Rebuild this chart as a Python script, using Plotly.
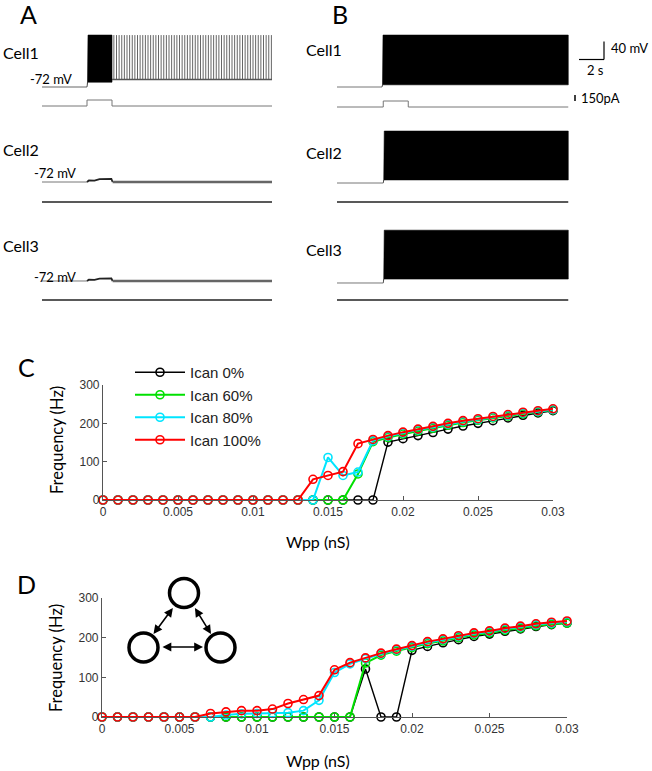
import plotly.graph_objects as go

W, H = 652, 771

# ---- panel C / D data: firing frequency (Hz) vs Wpp (nS) ----
wpp_ns = [0.000, 0.001, 0.002, 0.003, 0.004, 0.005, 0.006, 0.007, 0.008, 0.009,
          0.010, 0.011, 0.012, 0.013, 0.014, 0.015, 0.016, 0.017, 0.018, 0.019,
          0.020, 0.021, 0.022, 0.023, 0.024, 0.025, 0.026, 0.027, 0.028, 0.029, 0.030]

series_names = ["Ican 0%", "Ican 60%", "Ican 80%", "Ican 100%"]
series_colors = ["#000000", "#00e000", "#00e5ff", "#ff0000"]

c_ican0 = [0, 0, 0, 0, 0, 0, 0, 0, 0, 0, 0, 0, 0, 0, 0, 0, 0, 0, 0,
           151, 160, 168, 176, 185, 193, 200, 207, 214, 221, 227, 233]
c_ican60 = [0, 0, 0, 0, 0, 0, 0, 0, 0, 0, 0, 0, 0, 0, 0, 0, 0,
            68, 152, 163, 172, 180, 187, 195, 202, 208, 214, 219, 225, 230, 235]
c_ican80 = [0, 0, 0, 0, 0, 0, 0, 0, 0, 0, 0, 0, 0, 0, 0,
            111, 64, 73, 155, 166, 175, 183, 190, 198, 205, 210, 216, 221, 227, 231, 236]
c_ican100 = [0, 0, 0, 0, 0, 0, 0, 0, 0, 0, 0, 0, 0, 0,
             54, 64, 74, 147, 158, 168, 177, 185, 192, 200, 207, 212, 218, 223, 229, 233, 238]

d_ican0 = [0, 0, 0, 0, 0, 0, 0, 0, 0, 0, 0, 0, 0, 0, 0, 0, 0,
           121, 0, 0, 168, 178, 187, 195, 203, 209, 216, 222, 228, 233, 237]
d_ican60 = [0, 0, 0, 0, 0, 0, 0, 0, 0, 0, 0, 0, 0, 0, 0, 0, 0,
            136, 156, 166, 175, 185, 192, 200, 207, 212, 219, 224, 230, 234, 237]
d_ican80 = [0, 0, 0, 0, 0, 0, 0, 0,
            5, 8, 9, 10, 11, 16, 42, 112, 134, 147, 159, 169, 178, 188, 195, 203,
            210, 215, 222, 227, 233, 237, 240]
d_ican100 = [0, 0, 0, 0, 0, 0, 0,
             9, 13, 16, 16, 20, 34, 44, 54, 119, 137, 149, 161, 171, 180, 190, 197,
             205, 212, 217, 224, 229, 235, 239, 242]

x_ticks = [0, 0.005, 0.01, 0.015, 0.02, 0.025, 0.03]
x_ticktext = ["0", "0.005", "0.01", "0.015", "0.02", "0.025", "0.03"]
y_ticks = [0, 100, 200, 300]

# ---- panel A / B traces (s, mV, pA) ----
rest_mv = -72
stim_pa = 150
a_end_s = 18.4
b_end_s = 18.5
a_stim_s = [3.6, 5.6]
b_stim_s = [3.7, 5.7]

# A cell1: burst during stimulus, then tonic spiking
a1_burst_lo, a1_burst_hi = -61, 46
a1_tonic_base = -55
a1_spike_peak = 46
a1_first_tonic = 5.75
a1_isi = 0.21

# A cells 2 and 3: small depolarisation during stimulus
a2_bump_t = [3.6, 3.75, 4.2, 4.6, 5.55, 5.65]
a2_bump_v = [-72, -68.5, -69, -65.5, -65, -72]
a3_bump_t = [3.6, 3.75, 4.2, 4.6, 5.55, 5.65]
a3_bump_v = [-72, -69, -69.5, -66.5, -66, -72]

# B cells: persistent high-frequency firing (envelope)
b_onset_s = [3.6, 3.7, 3.7]
b_block_hi = [46, 46, 48]
b_block_lo = [-67, -65, -63]

LBL = "Lato, 'Open Sans', sans-serif"
TICK = "'Liberation Sans', Arial, sans-serif"


def fx(p):
    return p / W


def fy(p):
    return 1 - p / H


layout_axes = {}


def add_axes(n, x0, x1, y_top, y_bot, xr, yr):
    xs = "xaxis" if n == 1 else f"xaxis{n}"
    ys = "yaxis" if n == 1 else f"yaxis{n}"
    ref = "" if n == 1 else str(n)
    layout_axes[xs] = dict(domain=[fx(x0), fx(x1)], range=xr, visible=False,
                           anchor="y" + ref, fixedrange=True, automargin=False)
    layout_axes[ys] = dict(domain=[fy(y_bot), fy(y_top)], range=yr, visible=False,
                           anchor="x" + ref, fixedrange=True, automargin=False)
    return "x" + ref, "y" + ref


fig = go.Figure()

# ---- C and D line charts ----
mv_px = 0.44   # pixel per mV in trace panels
s_px = 12.5    # pixel per second
v_range = [-85, 55]
i_range = [-50, 200]

add_axes(1, 103, 553, 385, 500, [0, 0.03], [0, 300])
add_axes(2, 102, 567, 598, 717, [0, 0.03], [0, 300])

for ax in ("xaxis", "xaxis2"):
    layout_axes[ax].update(visible=True, showline=True, linecolor="#555", linewidth=1.2,
                           ticks="inside", ticklen=4, tickcolor="#555", showgrid=False,
                           zeroline=False, tickvals=x_ticks, ticktext=x_ticktext,
                           tickfont=dict(family=TICK, size=12, color="#333"))
for ax in ("yaxis", "yaxis2"):
    layout_axes[ax].update(visible=True, showline=True, linecolor="#555", linewidth=1.2,
                           ticks="inside", ticklen=4, tickcolor="#555", showgrid=False,
                           zeroline=False, tickvals=y_ticks,
                           tickfont=dict(family=TICK, size=12, color="#333"))

for (xr, yr, data, legend) in (("x", "y", [c_ican0, c_ican60, c_ican80, c_ican100], True),
                               ("x2", "y2", [d_ican0, d_ican60, d_ican80, d_ican100], False)):
    for name, col, vals in zip(series_names, series_colors, data):
        fig.add_trace(go.Scatter(
            x=wpp_ns, y=vals, name=name, mode="lines+markers", xaxis=xr, yaxis=yr,
            line=dict(color=col, width=1.4 if col == "#000000" else 2),
            marker=dict(symbol="circle-open", size=8, color=col, line=dict(width=1.6)),
            cliponaxis=False, showlegend=legend))

# ---- A and B traces ----
a_v_base = [87, 182, 281]
a_i_base = [106, 202, 300]
b_v_base = [87, 183, 283]
b_i_base = [107, 202, 300]

n = 3
a_vax, a_iax, b_vax, b_iax = [], [], [], []
for k in range(3):
    bot = a_v_base[k] + (rest_mv - v_range[0]) * mv_px
    a_vax.append(add_axes(n, 42, 42 + 18.6 * s_px, bot - 140 * mv_px, bot, [0, 18.6], v_range)); n += 1
    a_iax.append(add_axes(n, 42, 42 + 18.6 * s_px, a_i_base[k] - 8, a_i_base[k] + 2, [0, 18.6], i_range)); n += 1
    bot = b_v_base[k] + (rest_mv - v_range[0]) * mv_px
    b_vax.append(add_axes(n, 337, 337 + 18.6 * s_px, bot - 140 * mv_px, bot, [0, 18.6], v_range)); n += 1
    b_iax.append(add_axes(n, 337, 337 + 18.6 * s_px, b_i_base[k] - 8, b_i_base[k] + 2, [0, 18.6], i_range)); n += 1


def line(axp, t, v, color="#666", width=1.0):
    fig.add_trace(go.Scatter(x=t, y=v, mode="lines", xaxis=axp[0], yaxis=axp[1],
                             line=dict(color=color, width=width), showlegend=False,
                             hoverinfo="skip"))


def block(axp, t0, t1, lo, hi, start_v):
    fig.add_trace(go.Scatter(x=[t0, t0 + 0.04, t0 + 0.08, t1, t1, t0 + 0.08],
                             y=[start_v, lo, hi, hi, lo, lo], mode="lines", fill="toself",
                             fillcolor="black", xaxis=axp[0], yaxis=axp[1],
                             line=dict(color="black", width=0.6), showlegend=False,
                             hoverinfo="skip"))


# A cell1 voltage
line(a_vax[0], [0, a_stim_s[0]], [rest_mv, rest_mv])
block(a_vax[0], a_stim_s[0], a_stim_s[1], a1_burst_lo, a1_burst_hi, rest_mv)
spk_t, spk_v = [], []
t = a1_first_tonic
while t < a_end_s:
    spk_t += [t, t, None]
    spk_v += [a1_tonic_base, a1_spike_peak, None]
    t += a1_isi
line(a_vax[0], spk_t, spk_v, color="#666", width=1.0)
line(a_vax[0], [a_stim_s[1], a_end_s], [a1_tonic_base, a1_tonic_base], color="#555", width=1.6)

# A cells 2, 3 voltage
for axp, bt, bv in ((a_vax[1], a2_bump_t, a2_bump_v), (a_vax[2], a3_bump_t, a3_bump_v)):
    line(axp, [0, bt[0]], [rest_mv, rest_mv], color="#777")
    line(axp, bt, bv, color="#222", width=1.8)
    line(axp, [bt[-1], a_end_s], [rest_mv, rest_mv], color="#666", width=2.4)

# B voltage
for k in range(3):
    line(b_vax[k], [0, b_onset_s[k]], [rest_mv, rest_mv], color="#777")
    block(b_vax[k], b_onset_s[k], b_end_s, b_block_lo[k], b_block_hi[k], rest_mv)

# currents
line(a_iax[0], [0, a_stim_s[0], a_stim_s[0], a_stim_s[1], a_stim_s[1], a_end_s],
     [0, 0, stim_pa, stim_pa, 0, 0], color="#777")
line(b_iax[0], [0, b_stim_s[0], b_stim_s[0], b_stim_s[1], b_stim_s[1], b_end_s],
     [0, 0, stim_pa, stim_pa, 0, 0], color="#777")
for k in (1, 2):
    line(a_iax[k], [0, a_end_s], [0, 0], color="#222", width=1.3)
    line(b_iax[k], [0, b_end_s], [0, 0], color="#222", width=1.3)

# ---- text ----
ann = []


def text(s, x, y, size, xanchor="left", family=LBL, angle=0, color="black"):
    ann.append(dict(text=s, x=fx(x), y=fy(y), xref="paper", yref="paper",
                    xanchor=xanchor, yanchor="middle", showarrow=False, textangle=angle,
                    font=dict(family=family, size=size, color=color)))


for lab, x, y in (("A", 28, 14), ("B", 340, 14), ("C", 27, 367), ("D", 27, 584)):
    text(lab, x, y, 25, xanchor="center")
for k, y in enumerate((53, 150, 246)):
    text(f"Cell{k + 1}", 1, y, 16)
for k, y in enumerate((50, 153, 250)):
    text(f"Cell{k + 1}", 304, y, 16)
for x, y in ((28, 79), (32, 173), (32, 277)):
    text("-72 mV", x, y, 13)
text("40 mV", 609, 48, 13)
text("2 s", 595, 70, 13, xanchor="center")
text("150pA", 579, 98, 13)
text("Frequency (Hz)", 57, 440, 16.5, xanchor="center", angle=-90)
text("Frequency (Hz)", 56, 658, 16.5, xanchor="center", angle=-90)
text("Wpp (nS)", 318, 541, 16, xanchor="center")
text("Wpp (nS)", 318, 760, 16, xanchor="center")

# network inset arrows (double headed)
for (x0, y0, x1, y1) in ((161, 647, 203, 647), (174, 606.5, 153.5, 634), (194, 606.5, 211, 634)):
    ann.append(dict(x=fx(x1), y=fy(y1), xref="paper", yref="paper", ax=x0 - x1, ay=y0 - y1,
                    axref="pixel", ayref="pixel", text="", showarrow=True, arrowhead=2,
                    arrowside="end+start", arrowsize=1.1, arrowwidth=1.6, arrowcolor="black"))

shapes = []
for cx, cy in ((184, 593), (143.5, 647.5), (220.5, 647.5)):
    r = 14.5
    shapes.append(dict(type="circle", xref="paper", yref="paper",
                       x0=fx(cx - r), x1=fx(cx + r), y0=fy(cy + r), y1=fy(cy - r),
                       line=dict(color="black", width=3.5)))
# scale bars
for (x0, y0, x1, y1, w) in ((579, 59.5, 604, 59.5, 1.2), (604, 41.5, 604, 59.5, 1.2),
                            (575, 95, 575, 101, 1.5)):
    shapes.append(dict(type="line", xref="paper", yref="paper", x0=fx(x0), y0=fy(y0),
                       x1=fx(x1), y1=fy(y1), line=dict(color="black", width=w)))

fig.update_layout(
    width=W, height=H,
    margin=dict(l=0, r=0, t=0, b=0, autoexpand=False),
    plot_bgcolor="white", paper_bgcolor="white",
    annotations=ann, shapes=shapes,
    legend=dict(x=fx(130), y=fy(356), xanchor="left", yanchor="top",
                font=dict(family=TICK, size=15, color="#222"), itemwidth=50,
                bgcolor="rgba(0,0,0,0)", tracegroupgap=0),
    **layout_axes,
)

# page body has a default 8px margin; remove it so the figure sits at the window corner
fig.write_html("out.html", config={"displayModeBar": False},
               post_script="document.body.style.margin='0';document.body.style.overflow='hidden';")
